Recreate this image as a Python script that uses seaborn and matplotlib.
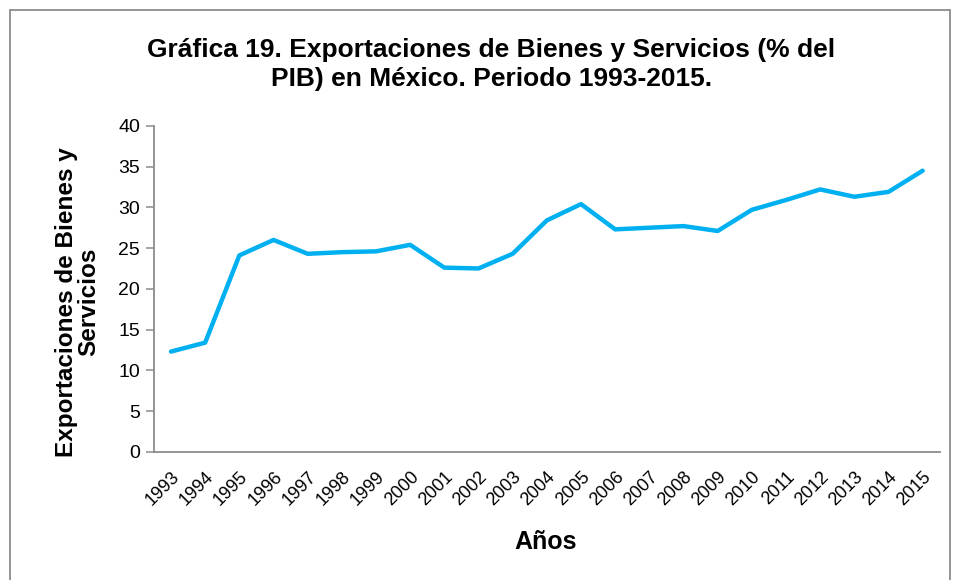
import matplotlib
matplotlib.use("Agg")
import matplotlib.pyplot as plt
from matplotlib.patches import Rectangle
import seaborn as sns
import pandas as pd

# datos
anios = [str(a) for a in range(1993, 2016)]
exportaciones = [12.3, 13.4, 24.1, 26.0, 24.3, 24.5, 24.6, 25.4, 22.6, 22.5,
                 24.3, 28.4, 30.4, 27.3, 27.5, 27.7, 27.1, 29.7, 30.9, 32.2,
                 31.3, 31.9, 34.5]

df = pd.DataFrame({"Años": anios, "Exportaciones": exportaciones})

sns.set_style("white")
plt.rcParams['font.family'] = ['Liberation Sans', 'DejaVu Sans']
plt.rcParams['text.color'] = 'black'
plt.rcParams['axes.labelcolor'] = 'black'

fig = plt.figure(figsize=(9.56, 5.8), dpi=100)
ax = fig.add_axes([0.161, 0.221, 0.822, 0.562])

sns.lineplot(data=df, x="Años", y="Exportaciones", ax=ax,
             color="#00B0F0", linewidth=3.2, sort=False)

ax.set_ylim(0, 40)
ax.set_xlim(-0.5, len(anios) - 0.5)
ax.set_yticks(range(0, 41, 5))
ax.set_xticks(range(len(anios)))
ax.set_xticklabels(anios, rotation=45, ha="right", rotation_mode="anchor")

for s in ["top", "right"]:
    ax.spines[s].set_visible(False)
for s in ["left", "bottom"]:
    ax.spines[s].set_color("#8c8c8c")
    ax.spines[s].set_linewidth(1.3)
ax.tick_params(axis="y", left=True, direction="out", length=6, width=1.1,
               color="#8c8c8c", labelsize=14, labelcolor="black", pad=4)
ax.tick_params(axis="x", bottom=False, length=0, pad=12, labelsize=13, labelcolor="black")

ax.set_xlabel("Años", fontsize=18, fontweight="bold")
ax.xaxis.set_label_coords(0.499, -0.24)
ax.set_ylabel("Exportaciones de Bienes y\nServicios", fontsize=17.5,
              fontweight="bold", linespacing=0.95)
ax.yaxis.set_label_coords(-0.068, 0.46)

fig.text(0.514, 0.889, "Gráfica 19. Exportaciones de Bienes y Servicios (% del\nPIB) en México. Periodo 1993-2015.",
         ha="center", va="center", fontsize=19, fontweight="bold", linespacing=1.3)

# borde del grafico
fig.patches.append(Rectangle((0.0105, -0.05), 0.983, 1.033, transform=fig.transFigure,
                             fill=False, edgecolor="#8c8c8c", linewidth=1.3))

fig.savefig("out.png", dpi=100)
